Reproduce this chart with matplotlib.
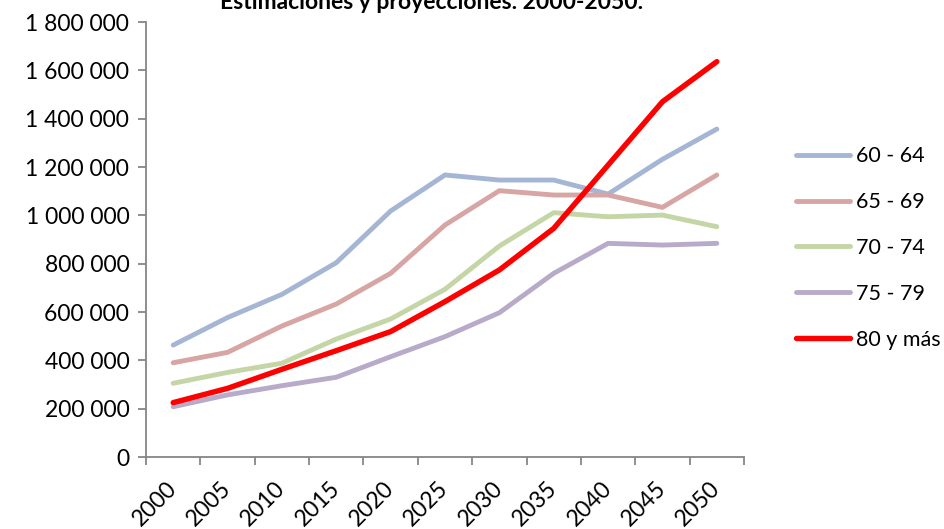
import matplotlib
matplotlib.use("Agg")
import matplotlib.pyplot as plt
from matplotlib.ticker import FuncFormatter, FixedLocator
from matplotlib.lines import Line2D

plt.rcParams['font.family'] = ['Lato', 'DejaVu Sans']

years = ["2000", "2005", "2010", "2015", "2020", "2025", "2030", "2035", "2040", "2045", "2050"]
s60_64 = [463000, 577000, 673000, 804000, 1018000, 1167000, 1146000, 1146000, 1088000, 1232000, 1357000]
s65_69 = [390000, 433000, 542000, 633000, 760000, 960000, 1102000, 1084000, 1084000, 1033000, 1167000]
s70_74 = [305000, 350000, 388000, 488000, 571000, 694000, 873000, 1011000, 994000, 1001000, 953000]
s75_79 = [208000, 257000, 295000, 330000, 415000, 498000, 597000, 760000, 884000, 877000, 884000]
s80 = [225000, 284000, 363000, 440000, 519000, 643000, 774000, 946000, 1208000, 1470000, 1636000]
labels = ["60 - 64", "65 - 69", "70 - 74", "75 - 79", "80 y más"]
title = "Estimaciones y proyecciones. 2000-2050."

colors = ["#A4B6D4", "#D7A5A4", "#C4D5A6", "#B8ABC9", "#FF0000"]
widths = [3.5, 3.5, 3.5, 3.5, 3.9]

fig = plt.figure(figsize=(9.45, 5.29), dpi=100)
ax = fig.add_axes([146/945, 1-457/529, (744-146)/945, (457-22)/529])

x = list(range(len(years)))
series = [s60_64, s65_69, s70_74, s75_79, s80]
for s, c, w, lab in zip(series, colors, widths, labels):
    ax.plot(x, s, color=c, lw=w, solid_capstyle='round', solid_joinstyle='round', label=lab)

ax.set_xlim(-0.5, len(years) - 0.5)
ax.set_ylim(0, 1800000)
ax.set_yticks(range(0, 1800001, 200000))
ax.yaxis.set_major_formatter(FuncFormatter(lambda v, p: f"{int(v):,}".replace(",", " ")))

ax.xaxis.set_major_locator(FixedLocator([i - 0.5 for i in range(len(years) + 1)]))
ax.xaxis.set_major_formatter(FuncFormatter(lambda v, p: ""))
ax.xaxis.set_minor_locator(FixedLocator(x))
ax.set_xticklabels(years, minor=True)
for t in ax.get_xticklabels(minor=True):
    t.set_rotation(45)
    t.set_ha('right')
    t.set_va('center')
    t.set_rotation_mode('anchor')
ax.tick_params(axis='x', which='minor', length=0, labelsize=16.5, pad=20)
ax.tick_params(axis='x', which='major', length=6, color='#868686', width=1.3)
ax.tick_params(axis='y', length=6, color='#868686', width=1.3, labelsize=16.5, pad=6)

for sp in ['top', 'right']:
    ax.spines[sp].set_visible(False)
for sp in ['left', 'bottom']:
    ax.spines[sp].set_color('#868686')
    ax.spines[sp].set_linewidth(1.3)

handles = [Line2D([0], [0], color=c, lw=w, solid_capstyle='round') for c, w in zip(colors, widths)]
leg = fig.legend(handles, labels, loc='center left', bbox_to_anchor=(796/945, 1-248/529),
                 frameon=False, fontsize=15.5, handlelength=2.5, handletextpad=0.3,
                 labelspacing=1.2, borderpad=0, borderaxespad=0)

fig.text(432/945, 1-9/529, title, ha='center', va='baseline', fontsize=16.5, fontweight='bold')

fig.savefig("out.png", dpi=100)
